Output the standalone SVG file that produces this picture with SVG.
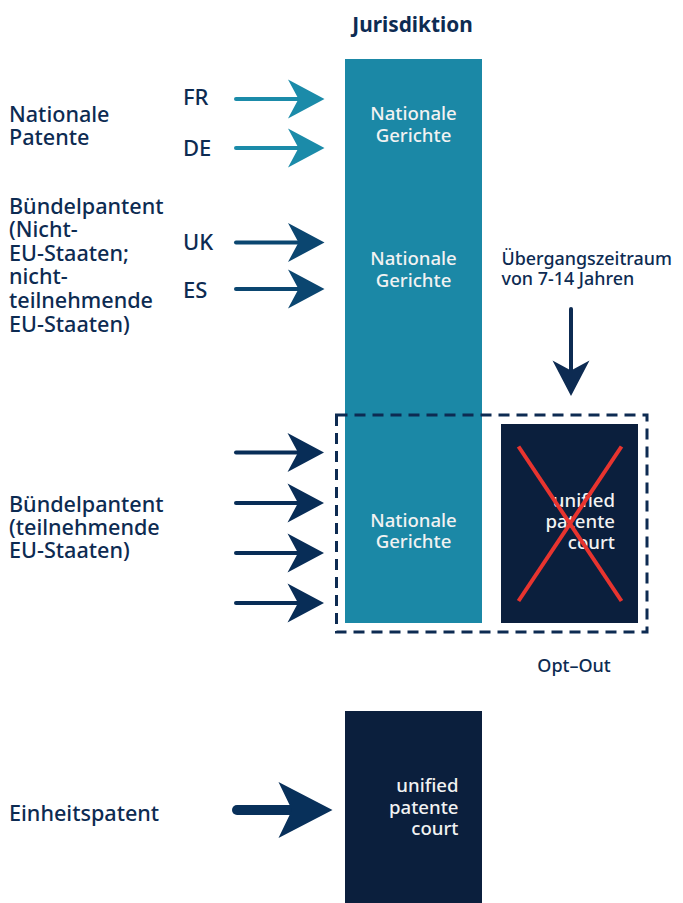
<svg xmlns="http://www.w3.org/2000/svg" width="683" height="903" viewBox="0 0 683 903">
<style>
  .lbl { font-family: "Noto Sans", "Open Sans", sans-serif; font-weight: 500; fill: #0d2b52; }
  .side { font-size: 21.6px; }
  .code { font-size: 22px; }
  .inner { font-family: "Noto Sans", "Open Sans", sans-serif; font-weight: 500; font-size: 18.6px; fill: #f2f2f2; }
  .teal { fill: #1b88a6; }
  .dark { fill: #0b1f3d; }
  .shaft { stroke-width: 4; stroke-linecap: round; fill: none; }
</style>
<defs>
  <path id="ah" d="M0,0 L-36.5,-19.5 L-26,0 L-36.5,19.5 Z"/>
</defs>
<rect width="683" height="903" fill="#ffffff"/>

<text class="lbl" x="412.5" y="31.5" text-anchor="middle" style="font-size:20.8px;font-weight:700">Jurisdiktion</text>

<g id="col-national">
  <rect class="teal" x="345" y="59" width="137" height="564"/>
  <text class="inner" text-anchor="middle"><tspan x="413.5" y="120">Nationale</tspan><tspan x="413.5" y="141.5">Gerichte</tspan></text>
  <text class="inner" text-anchor="middle"><tspan x="413.5" y="265">Nationale</tspan><tspan x="413.5" y="286.5">Gerichte</tspan></text>
  <text class="inner" text-anchor="middle"><tspan x="413.5" y="526.5">Nationale</tspan><tspan x="413.5" y="548">Gerichte</tspan></text>
</g>

<g id="upc-optout">
  <rect class="dark" x="501" y="424" width="137" height="199"/>
  <text class="inner" text-anchor="end"><tspan x="615" y="506.5">unified</tspan><tspan x="615" y="528">patente</tspan><tspan x="615" y="549">court</tspan></text>
  <line x1="518.5" y1="446.5" x2="621.5" y2="601" stroke="#e8342f" stroke-width="4"/>
  <line x1="621.5" y1="446.5" x2="518.5" y2="601" stroke="#e8342f" stroke-width="4"/>
</g>

<g id="optout-frame">
  <rect x="336.5" y="415" width="310.5" height="217" fill="none" stroke="#0d2b52" stroke-width="3" stroke-dasharray="11 7"/>
  <text class="lbl" x="574" y="671.5" text-anchor="middle" style="font-size:18px">Opt–Out</text>
</g>

<g id="upc">
  <rect class="dark" x="345" y="711" width="137" height="192"/>
  <text class="inner" text-anchor="end"><tspan x="458.5" y="792">unified</tspan><tspan x="458.5" y="813.5">patente</tspan><tspan x="458.5" y="834.5">court</tspan></text>
</g>

<g id="labels">
  <text class="lbl side"><tspan x="9" y="121.5">Nationale</tspan><tspan x="9" y="145">Patente</tspan></text>
  <text class="lbl side"><tspan x="9" y="214">Bündelpantent</tspan><tspan x="9" y="237">(Nicht-</tspan><tspan x="9" y="260.5">EU-Staaten;</tspan><tspan x="9" y="284">nicht-</tspan><tspan x="9" y="308">teilnehmende</tspan><tspan x="9" y="331.5">EU-Staaten)</tspan></text>
  <text class="lbl side"><tspan x="9" y="511.5">Bündelpantent</tspan><tspan x="9" y="534.5">(teilnehmende</tspan><tspan x="9" y="557.5">EU-Staaten)</tspan></text>
  <text class="lbl side" x="9" y="821">Einheitspatent</text>
  <text class="lbl code" x="183" y="105">FR</text>
  <text class="lbl code" x="183" y="156">DE</text>
  <text class="lbl code" x="183" y="250">UK</text>
  <text class="lbl code" x="183" y="298">ES</text>
  <text class="lbl" style="font-size:17.9px"><tspan x="501.5" y="265">Übergangszeitraum</tspan><tspan x="501.5" y="284.5">von 7-14 Jahren</tspan></text>
</g>

<g id="connectors">
  <g stroke="#1b8ba9" fill="#1b8ba9">
    <line class="shaft" x1="236" y1="99" x2="300" y2="99"/>
    <use href="#ah" x="324.5" y="99" stroke="none"/>
    <line class="shaft" x1="236" y1="148" x2="300" y2="148"/>
    <use href="#ah" x="324.5" y="148" stroke="none"/>
  </g>
  <g stroke="#0b4670" fill="#0b4670">
    <line class="shaft" x1="236" y1="242.5" x2="300" y2="242.5"/>
    <use href="#ah" x="324.5" y="242.5" stroke="none"/>
    <line class="shaft" x1="236" y1="289" x2="300" y2="289"/>
    <use href="#ah" x="324.5" y="289" stroke="none"/>
  </g>
  <g stroke="#082d57" fill="#082d57">
    <line class="shaft" x1="236" y1="452.5" x2="300" y2="452.5"/>
    <use href="#ah" x="324" y="452.5" stroke="none"/>
    <line class="shaft" x1="236" y1="503" x2="300" y2="503"/>
    <use href="#ah" x="324" y="503" stroke="none"/>
    <line class="shaft" x1="236" y1="553" x2="300" y2="553"/>
    <use href="#ah" x="324" y="553" stroke="none"/>
    <line class="shaft" x1="236" y1="603" x2="300" y2="603"/>
    <use href="#ah" x="324" y="603" stroke="none"/>
  </g>
  <g stroke="#0d2b52" fill="#0d2b52">
    <line x1="571" y1="309" x2="571" y2="375" stroke-width="4" stroke-linecap="round"/>
    <path d="M571,396 L552.5,360.5 L571,370.5 L589.5,360.5 Z" stroke="none"/>
  </g>
  <g stroke="#08305a" fill="#08305a">
    <line x1="237" y1="810" x2="300" y2="810" stroke-width="10" stroke-linecap="round"/>
    <path d="M332.5,810 L278.5,782 L292,810 L278.5,838 Z" stroke="none"/>
  </g>
</g>
</svg>
